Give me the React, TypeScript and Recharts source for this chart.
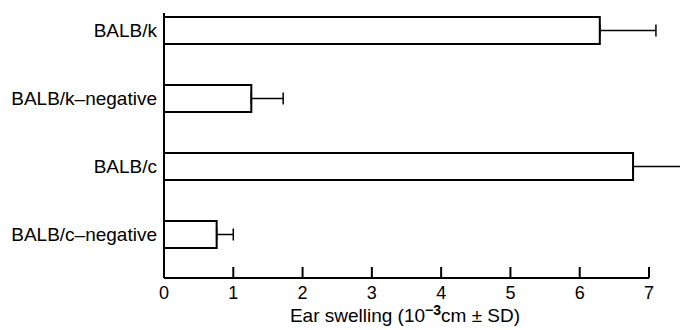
import React from "react";
import { BarChart, Bar, XAxis, YAxis, ErrorBar, ReferenceLine, Label } from "recharts";

const categories = ["BALB/k", "BALB/k\u2013negative", "BALB/c", "BALB/c\u2013negative"];
const swelling = [6.29, 1.26, 6.77, 0.76];
const sd = [0.81, 0.46, 0.8, 0.24];
const xTicks = [0, 1, 2, 3, 4, 5, 6, 7];

const data = categories.map((name, i) => ({ name, value: swelling[i], err: [0, sd[i]] }));

const FONT = '"Liberation Sans", Arial, Helvetica, sans-serif';

const XTick = (props: any) => {
  const { x, y, payload } = props;
  return (
    <g>
      <line x1={x} y1={y} x2={x} y2={y - 11} stroke="#000" strokeWidth={2} />
      <text x={x} y={y + 21} textAnchor="middle" fontSize={18} fontFamily={FONT} fill="#000">
        {payload.value}
      </text>
    </g>
  );
};

const Title = (props: any) => {
  const { viewBox } = props;
  const x = viewBox.x + 241;
  const y = viewBox.y + 44;
  return (
    <text x={x} y={y} textAnchor="middle" fontSize={19} fontFamily={FONT} fill="#000">
      Ear swelling (10
      <tspan dy={-7} fontSize={14} fontWeight="bold">{"\u22123"}</tspan>
      <tspan dy={7}>{"cm \u00b1 SD)"}</tspan>
    </text>
  );
};

// the hidden frame axis spans the full plot height over the category indices
const frameBottom = categories.length - 1;

export default function App() {
  return (
    <div style={{ width: 680, height: 330, background: "#fff" }}>
      <style>{"body{margin:0;background:#fff}"}</style>
      <BarChart
        width={680}
        height={330}
        data={data}
        layout="vertical"
        margin={{ top: 13, right: 0, left: 0, bottom: 0 }}
      >
        <XAxis
          type="number"
          domain={[0, 7]}
          ticks={xTicks}
          allowDataOverflow
          padding={{ left: 0, right: 31 }}
          axisLine={false}
          tickLine={false}
          tickSize={0}
          tickMargin={0}
          height={52}
          tick={<XTick />}
          interval={0}
        >
          <Label content={<Title />} />
        </XAxis>
        <YAxis
          type="category"
          dataKey="name"
          width={164}
          axisLine={{ stroke: "#000", strokeWidth: 2 }}
          tickLine={false}
          tickSize={0}
          tickMargin={7}
          padding={{ top: -17, bottom: 10 }}
          tick={{ fill: "#000", fontSize: 19, fontFamily: FONT }}
          interval={0}
        />
        <YAxis yAxisId="frame" type="number" scale="linear" allowDataOverflow hide />
        <ReferenceLine
          yAxisId="frame"
          segment={[{ x: 0, y: frameBottom }, { x: 7, y: frameBottom }]}
          stroke="#000"
          strokeWidth={2}
          ifOverflow="visible"
        />
        <Bar dataKey="value" fill="#fff" stroke="#000" strokeWidth={2} barSize={27} isAnimationActive={false}>
          <ErrorBar dataKey="err" direction="x" stroke="#000" strokeWidth={1.5} width={6} isAnimationActive={false} />
        </Bar>
      </BarChart>
    </div>
  );
}
